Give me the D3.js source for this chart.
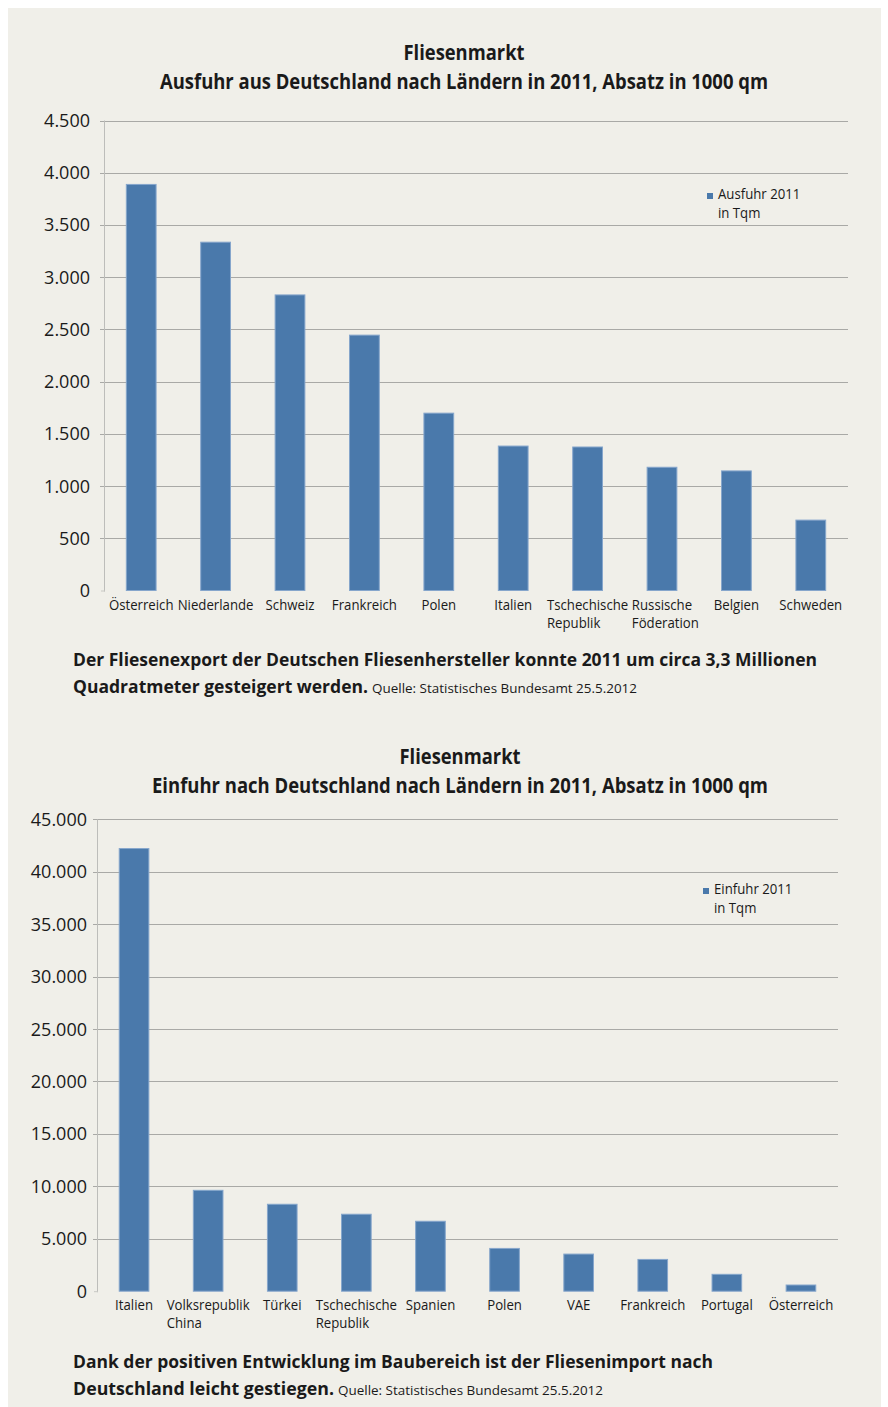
<!DOCTYPE html>
<html lang="de">
<head>
  <meta charset="UTF-8">
  <style>
    body { margin: 0; background: #fff; }
    svg text { font-family: "Open Sans", "Noto Sans", sans-serif; fill: #1a1a1a; }
    .grid line { stroke: #a9a9a6; stroke-width: 1; }
    .bar { fill: #4a79ab; stroke: #86a6cc; stroke-width: 1; }
  </style>
</head>
<body>
  <svg id="chart"></svg>
  <script src="https://cdnjs.cloudflare.com/ajax/libs/d3/7.8.5/d3.min.js"></script>
  <script>
    // Ausfuhr (export) 2011, in 1000 qm
    const exportCountries = ['Österreich', 'Niederlande', 'Schweiz', 'Frankreich', 'Polen',
      'Italien', 'Tschechische\nRepublik', 'Russische\nFöderation', 'Belgien', 'Schweden']
    const exportValues = [3888, 3335, 2830, 2445, 1698, 1383, 1374, 1180, 1145, 674]
    const exportTicks = [0, 500, 1000, 1500, 2000, 2500, 3000, 3500, 4000, 4500]

    // Einfuhr (import) 2011, in 1000 qm
    const importCountries = ['Italien', 'Volksrepublik\nChina', 'Türkei', 'Tschechische\nRepublik', 'Spanien',
      'Polen', 'VAE', 'Frankreich', 'Portugal', 'Österreich']
    const importValues = [42210, 9620, 8290, 7340, 6670, 4080, 3540, 3030, 1610, 590]
    const importTicks = [0, 5000, 10000, 15000, 20000, 25000, 30000, 35000, 40000, 45000]

    const W = 888, H = 1407
    const fmt = d3.format(',')
    const tickFmt = d => fmt(d).replace(/,/g, '.')
    const narrow = 0.91   // Open Sans is wider than the original font

    const svg = d3.select('#chart').attr('width', W).attr('height', H)

    svg.append('rect')
      .attr('x', 8).attr('y', 8)
      .attr('width', 873).attr('height', H - 8)
      .attr('fill', '#f0efe9')

    function squeezed(parent, txt, x, y, len, size, weight, anchor) {
      return parent.append('text')
        .attr('x', x).attr('y', y)
        .attr('font-size', size)
        .attr('font-weight', weight)
        .attr('text-anchor', anchor || 'start')
        .attr('textLength', len)
        .attr('lengthAdjust', 'spacingAndGlyphs')
        .text(txt)
    }

    // plain text, then squeezed to a fraction of its natural width
    function narrowText(parent, txt, x, y, size, anchor) {
      const t = parent.append('text')
        .attr('x', x).attr('y', y)
        .attr('font-size', size)
        .attr('text-anchor', anchor || 'start')
        .text(txt)
      const w = t.node().getComputedTextLength() * narrow
      t.attr('textLength', w).attr('lengthAdjust', 'spacingAndGlyphs')
      return w
    }

    function drawChart(o) {
      const g = svg.append('g')

      const x = d3.scaleBand()
        .domain(o.countries)
        .range([o.left, o.right])
        .padding(0)

      const y = d3.scaleLinear()
        .domain([0, o.max])
        .range([o.bottom, o.top])

      // gridlines + ticks
      const grid = g.append('g').attr('class', 'grid')
      grid.selectAll('line')
        .data(o.ticks.filter(t => t > 0))
        .enter().append('line')
          .attr('x1', o.left - 4)
          .attr('x2', o.right)
          .attr('y1', d => Math.round(y(d)) + 0.5)
          .attr('y2', d => Math.round(y(d)) + 0.5)

      // y axis line
      g.append('line')
        .attr('x1', o.left + 0.5).attr('x2', o.left + 0.5)
        .attr('y1', y(o.max)).attr('y2', o.bottom + 1)
        .attr('stroke', '#bdbdba')
      g.append('line')
        .attr('x1', o.left - 3).attr('x2', o.left + 1)
        .attr('y1', o.bottom + 0.5).attr('y2', o.bottom + 0.5)
        .attr('stroke', '#c8c8c4')

      // y labels
      g.append('g').selectAll('text')
        .data(o.ticks)
        .enter().append('text')
          .attr('x', o.labelRight)
          .attr('y', d => y(d) + 6.5)
          .attr('text-anchor', 'end')
          .attr('font-size', 18)
          .text(tickFmt)

      // bars
      const bw = x.bandwidth() * 0.4
      g.append('g').selectAll('rect')
        .data(o.values)
        .enter().append('rect')
          .attr('class', 'bar')
          .attr('x', (d, i) => x(o.countries[i]) + (x.bandwidth() - bw) / 2)
          .attr('y', d => y(d))
          .attr('width', bw)
          .attr('height', d => o.bottom - y(d))

      // category labels, second line left-aligned with first
      o.countries.forEach(c => {
        const lines = c.split('\n')
        const cx = x(c) + x.bandwidth() / 2
        const w = narrowText(g, lines[0], cx, o.labelY, 14.5, 'middle')
        if (lines[1]) narrowText(g, lines[1], cx - w / 2, o.labelY + 18, 14.5)
      })

      // legend
      g.append('rect')
        .attr('x', o.legX).attr('y', o.legY - 6)
        .attr('width', 6).attr('height', 6)
        .attr('fill', '#4a79ab')
      narrowText(g, o.legend[0], o.legX + 11, o.legY, 14.5)
      narrowText(g, o.legend[1], o.legX + 11, o.legY + 19, 14.5)

      // titles
      squeezed(g, 'Fliesenmarkt', o.titleX, o.titleY, 121, 22, 700, 'middle')
      squeezed(g, o.subtitle, o.titleX, o.titleY + 29, o.subLen, 22, 700, 'middle')

      // caption
      squeezed(g, o.caption[0], 73, o.capY, o.capLen[0], 18, 700)
      squeezed(g, o.caption[1], 73, o.capY + 27, o.capLen[1], 18, 700)
      squeezed(g, 'Quelle: Statistisches Bundesamt 25.5.2012', o.capLen[1] + 77, o.capY + 27, 265, 12.5, 400)
    }

    drawChart({
      countries: exportCountries, values: exportValues, ticks: exportTicks, max: 4500,
      left: 104, right: 848, top: 120.5, bottom: 590.5, labelRight: 90, labelY: 610,
      legX: 707, legY: 199, legend: ['Ausfuhr 2011', 'in Tqm'],
      titleX: 464, titleY: 60, subLen: 608,
      subtitle: 'Ausfuhr aus Deutschland nach Ländern in 2011, Absatz in 1000 qm',
      caption: ['Der Fliesenexport der Deutschen Fliesenhersteller konnte 2011 um circa 3,3 Millionen',
        'Quadratmeter gesteigert werden.'],
      capY: 666, capLen: [744, 295]
    })

    drawChart({
      countries: importCountries, values: importValues, ticks: importTicks, max: 45000,
      left: 97, right: 838, top: 819.3, bottom: 1291.2, labelRight: 87, labelY: 1310,
      legX: 703, legY: 894, legend: ['Einfuhr 2011', 'in Tqm'],
      titleX: 460, titleY: 764, subLen: 616,
      subtitle: 'Einfuhr nach Deutschland nach Ländern in 2011, Absatz in 1000 qm',
      caption: ['Dank der positiven Entwicklung im Baubereich ist der Fliesenimport nach',
        'Deutschland leicht gestiegen.'],
      capY: 1368, capLen: [640, 261]
    })
  </script>
</body>
</html>
